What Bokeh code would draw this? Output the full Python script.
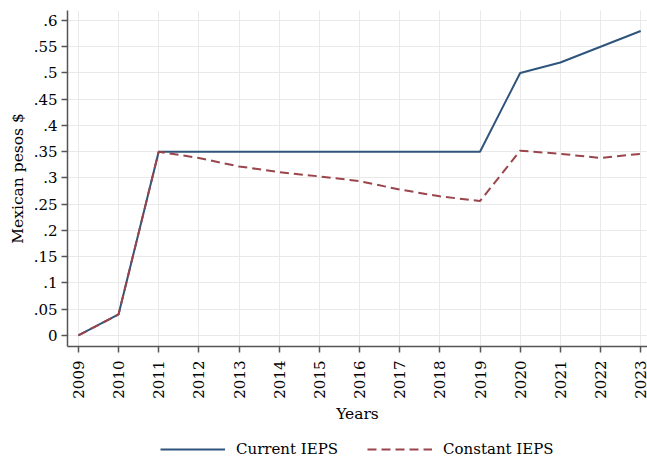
import math
from bokeh.plotting import figure
from bokeh.layouts import column
from bokeh.models import FixedTicker, CustomJSTickFormatter, Legend, LegendItem
from bokeh.embed import file_html
from bokeh.resources import INLINE

years = [2009, 2010, 2011, 2012, 2013, 2014, 2015, 2016, 2017, 2018, 2019, 2020, 2021, 2022, 2023]
current_ieps = [0.0, 0.04, 0.35, 0.35, 0.35, 0.35, 0.35, 0.35, 0.35, 0.35, 0.35, 0.50, 0.52, 0.55, 0.58]
constant_ieps = [0.0, 0.04, 0.35, 0.338, 0.322, 0.311, 0.303, 0.294, 0.278, 0.265, 0.256, 0.352, 0.346, 0.338, 0.346]
y_ticks = [0, 0.05, 0.1, 0.15, 0.2, 0.25, 0.3, 0.35, 0.4, 0.45, 0.5, 0.55, 0.6]
series_names = ["Current IEPS", "Constant IEPS"]

FONT = "DejaVu Serif"
BLUE = "#2f557c"
RED = "#9a454c"
DASH = "9 5"

H_MAIN = 439
p = figure(width=647, height=H_MAIN, x_range=(2008.73, 2023.17), y_range=(-0.021, 0.619),
           output_backend="svg", toolbar_location=None,
           min_border_left=67, min_border_right=0, min_border_top=10, min_border_bottom=H_MAIN - 346)
p.outline_line_color = None
p.background_fill_color = "white"
p.border_fill_color = "white"

p.line(years, current_ieps, line_color=BLUE, line_width=2)
p.line(years, constant_ieps, line_color=RED, line_width=2, line_dash=DASH)

p.xaxis.ticker = FixedTicker(ticks=years)
p.yaxis.ticker = FixedTicker(ticks=y_ticks)
p.yaxis.formatter = CustomJSTickFormatter(code="""
if (Math.abs(tick) < 1e-9) { return "0"; }
let s = tick.toFixed(2);
s = s.replace(/^0/, "");
s = s.replace(/0$/, "");
return s;
""")
p.xaxis.major_label_orientation = math.pi / 2

for ax in (p.xaxis[0], p.yaxis[0]):
    ax.axis_line_color = "#555555"
    ax.axis_line_width = 1.5
    ax.major_tick_line_color = "#555555"
    ax.major_tick_line_width = 1.5
    ax.major_tick_out = 6
    ax.major_tick_in = 0
    ax.minor_tick_line_color = None
    ax.major_label_text_font = FONT
    ax.major_label_text_font_size = "15px"
    ax.major_label_text_color = "black"
    ax.axis_label_text_font = FONT
    ax.axis_label_text_font_size = "15.5px"
    ax.axis_label_text_font_style = "normal"
    ax.axis_label_text_color = "black"

p.xaxis.major_label_standoff = 8
p.yaxis.major_label_standoff = 4
p.xaxis.axis_label = "Years"
p.yaxis.axis_label = "Mexican pesos $"
p.xaxis.axis_label_standoff = 3
p.yaxis.axis_label_standoff = 4

p.xgrid.ticker = FixedTicker(ticks=years)
p.ygrid.ticker = FixedTicker(ticks=y_ticks)
p.grid.grid_line_color = "#e9e9e9"
p.grid.grid_line_width = 1

# legend strip below the chart (its frame is aligned with the main frame)
pl = figure(width=647, height=459 - H_MAIN, x_range=(0, 1), y_range=(0, 1),
            output_backend="svg", toolbar_location=None,
            min_border_left=0, min_border_right=0, min_border_top=0, min_border_bottom=0)
pl.axis.visible = False
pl.grid.visible = False
pl.outline_line_color = None
pl.background_fill_color = "white"
pl.border_fill_color = "white"
nan = float("nan")
l1 = pl.line([nan], [nan], line_color=BLUE, line_width=2)
l2 = pl.line([nan], [nan], line_color=RED, line_width=2, line_dash=DASH)

legend = Legend(items=[LegendItem(label=series_names[0], renderers=[l1]),
                       LegendItem(label=series_names[1], renderers=[l2])],
                orientation="horizontal", location=(93, 0))
legend.label_text_font = FONT
legend.label_text_font_size = "15px"
legend.label_text_color = "black"
legend.glyph_width = 65
legend.glyph_height = 20
legend.label_height = 20
legend.label_standoff = 11
legend.spacing = 29
legend.border_line_color = None
legend.background_fill_alpha = 0
legend.padding = 0
legend.margin = 0
pl.add_layout(legend, "center")

layout = column(p, pl, spacing=0)
open("out.html", "w").write(file_html(layout, INLINE))
